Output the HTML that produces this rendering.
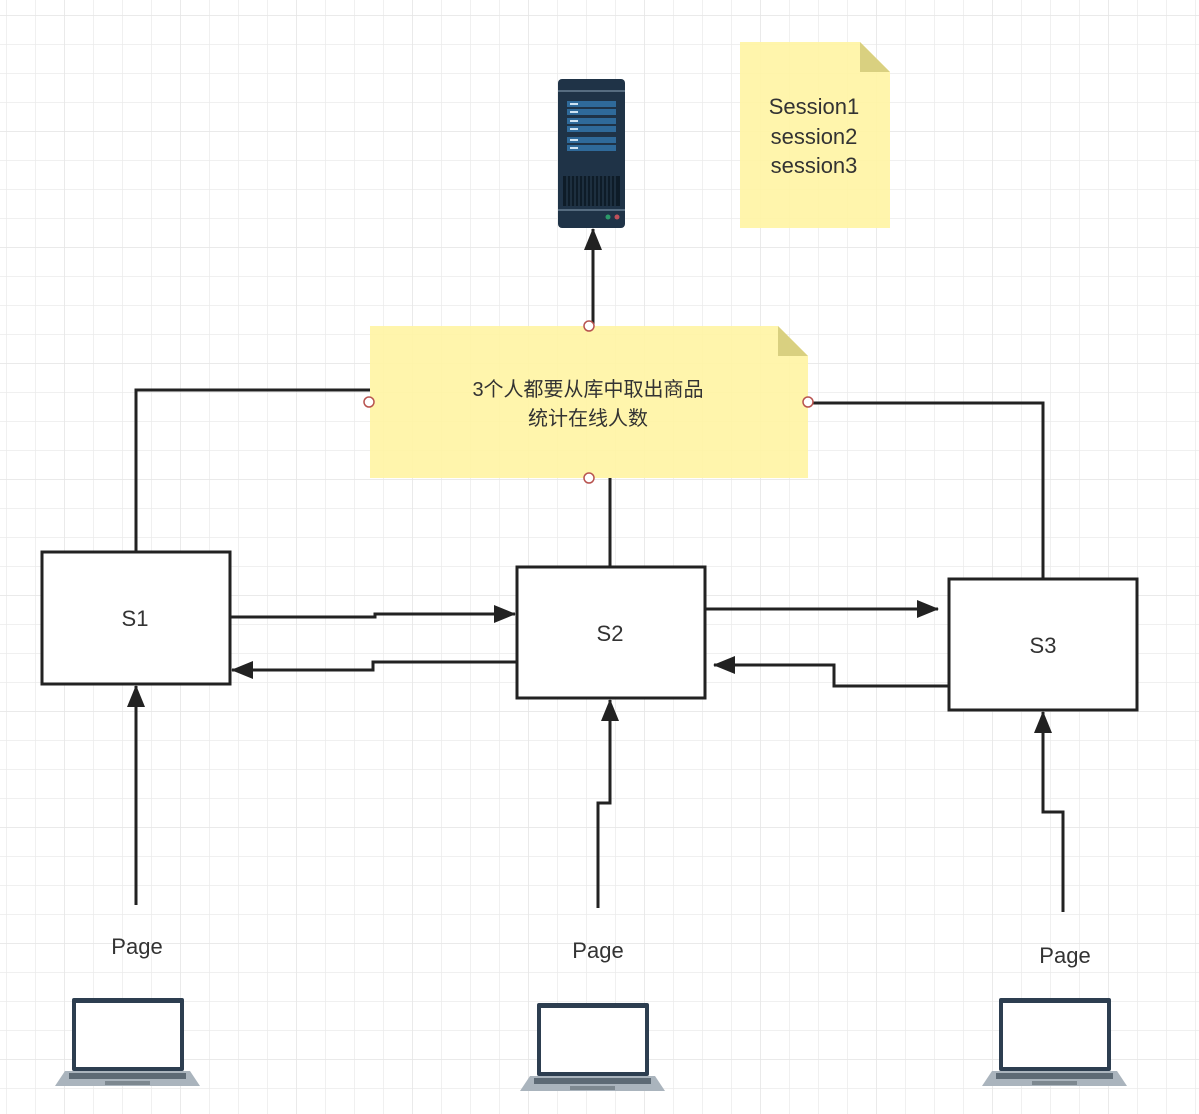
<!DOCTYPE html>
<html><head><meta charset="utf-8"><style>
html,body{margin:0;padding:0;background:#fff;}
svg{display:block;}
text{font-family:"Liberation Sans","Noto Sans CJK SC",sans-serif;fill:#333;}
</style></head><body>
<svg width="1199" height="1114" viewBox="0 0 1199 1114" xmlns="http://www.w3.org/2000/svg">
<defs>
<pattern id="g" x="6" y="15" width="29" height="29" patternUnits="userSpaceOnUse">
<path d="M0 0H29M0 0V29" stroke="#ebebeb" stroke-width="1.5" fill="none"/>
</pattern>
<pattern id="G" x="64" y="15" width="116" height="116" patternUnits="userSpaceOnUse">
<path d="M0 0H116M0 0V116" stroke="#e6e6e6" stroke-width="1.5" fill="none"/>
</pattern>
<marker id="a" markerWidth="22" markerHeight="18" refX="21" refY="9" orient="auto" markerUnits="userSpaceOnUse" viewBox="0 0 22 18">
<path d="M0 0L22 9L0 18Z" fill="#222"/>
</marker>
<symbol id="lap" viewBox="0 0 145 90">
<rect x="17" y="0" width="112" height="73" rx="2" fill="#2d3e50"/>
<rect x="21" y="5" width="104" height="64" fill="#fff"/>
<path d="M10 73H135L145 88H0Z" fill="#aab4bd"/>
<rect x="14" y="75" width="117" height="6" fill="#5d6a75"/>
<rect x="50" y="83" width="45" height="4" fill="#7d8890"/>
</symbol>
</defs>
<rect width="1199" height="1114" fill="url(#g)"/>
<rect width="1199" height="1114" fill="url(#G)"/>

<!-- server -->
<rect x="558" y="79" width="67" height="149" rx="4" fill="#1f3347"/>
<line x1="558" y1="91" x2="625" y2="91" stroke="#8ea5b8" stroke-width="1"/>
<g fill="#2f6a9a">
<rect x="567" y="101" width="49" height="6"/><rect x="567" y="109" width="49" height="6"/>
<rect x="567" y="118" width="49" height="6"/><rect x="567" y="126" width="49" height="6"/>
<rect x="567" y="137" width="49" height="6"/><rect x="567" y="145" width="49" height="6"/>
</g>
<g fill="#cfe3f2"><rect x="570" y="103" width="8" height="2"/><rect x="570" y="111" width="8" height="2"/><rect x="570" y="120" width="8" height="2"/><rect x="570" y="128" width="8" height="2"/><rect x="570" y="139" width="8" height="2"/><rect x="570" y="147" width="8" height="2"/></g>
<rect x="563" y="176" width="57" height="30" fill="#0e1c28"/>
<g stroke="#2c4256" stroke-width="1">
<path d="M567 176V206M571 176V206M575 176V206M579 176V206M583 176V206M587 176V206M591 176V206M595 176V206M599 176V206M603 176V206M607 176V206M611 176V206M615 176V206"/></g>
<line x1="558" y1="210" x2="625" y2="210" stroke="#8ea5b8"/>
<circle cx="608" cy="217" r="2.5" fill="#2c9a6a"/><circle cx="617" cy="217" r="2.5" fill="#c0505a"/>

<!-- notes -->
<path d="M740 42H860L890 72V228H740Z" fill="#fff4a3" opacity="0.9"/>
<path d="M860 42V72H890Z" fill="#d9d080"/>
<text x="814" y="114" font-size="22" text-anchor="middle">Session1</text>
<text x="814" y="144" font-size="22" text-anchor="middle">session2</text>
<text x="814" y="173" font-size="22" text-anchor="middle">session3</text>

<path d="M370 326H778L808 356V478H370Z" fill="#fff4a3" opacity="0.9"/>
<path d="M778 326V356H808Z" fill="#d9d080"/>
<text x="588" y="396" font-size="20" text-anchor="middle">3个人都要从库中取出商品</text>
<text x="588" y="425" font-size="20" text-anchor="middle">统计在线人数</text>

<!-- connectors -->
<g stroke="#222" stroke-width="3" fill="none">
<path d="M593 326V229" marker-end="url(#a)"/>
<path d="M136 552V390H370"/>
<path d="M808 403H1043V579"/>
<path d="M610 478V567"/>
<path d="M230 617H375V614H515" marker-end="url(#a)"/>
<path d="M517 662H373V670H232" marker-end="url(#a)"/>
<path d="M705 609H938" marker-end="url(#a)"/>
<path d="M949 686H834V665H714" marker-end="url(#a)"/>
<path d="M136 905V686" marker-end="url(#a)"/>
<path d="M598 908V803H610V700" marker-end="url(#a)"/>
<path d="M1063 912V812H1043V712" marker-end="url(#a)"/>
</g>
<g fill="#fff" stroke="#b85450" stroke-width="1.5">
<circle cx="589" cy="326" r="5"/><circle cx="369" cy="402" r="5"/><circle cx="808" cy="402" r="5"/><circle cx="589" cy="478" r="5"/>
</g>

<!-- boxes -->
<g fill="#fff" stroke="#222" stroke-width="3">
<rect x="42" y="552" width="188" height="132"/>
<rect x="517" y="567" width="188" height="131"/>
<rect x="949" y="579" width="188" height="131"/>
</g>
<text x="135" y="626" font-size="22" text-anchor="middle">S1</text>
<text x="610" y="641" font-size="22" text-anchor="middle">S2</text>
<text x="1043" y="653" font-size="22" text-anchor="middle">S3</text>

<text x="137" y="954" font-size="22" text-anchor="middle">Page</text>
<text x="598" y="958" font-size="22" text-anchor="middle">Page</text>
<text x="1065" y="963" font-size="22" text-anchor="middle">Page</text>

<use href="#lap" x="55" y="998" width="145" height="90"/>
<use href="#lap" x="520" y="1003" width="145" height="90"/>
<use href="#lap" x="982" y="998" width="145" height="90"/>
</svg>
</body></html>
